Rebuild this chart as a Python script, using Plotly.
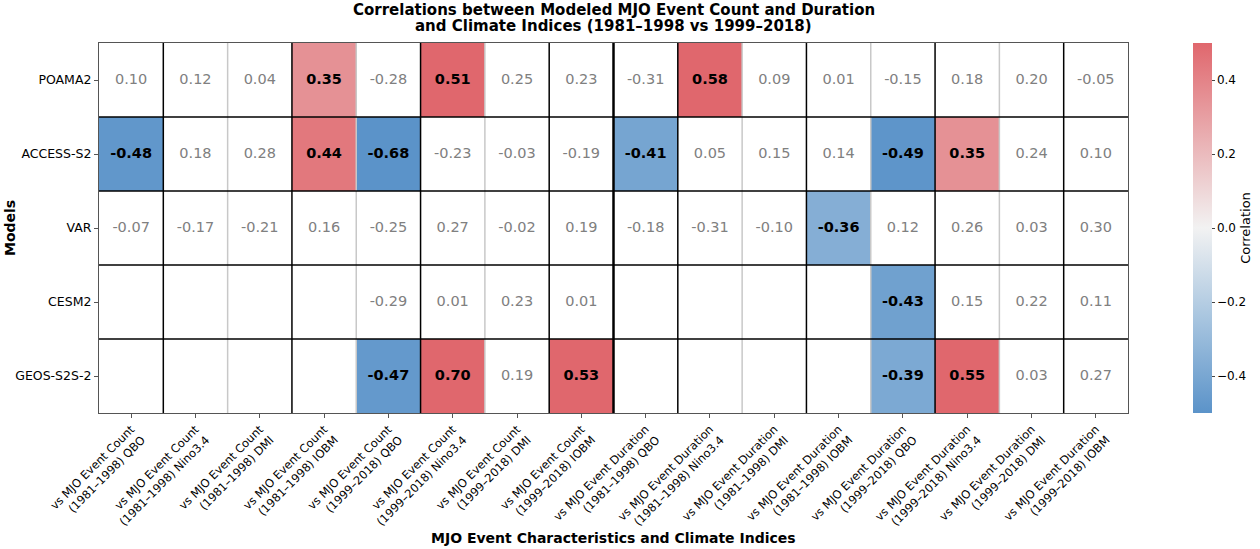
import plotly.graph_objects as go

models = ["POAMA2", "ACCESS-S2", "VAR", "CESM2", "GEOS-S2S-2"]

x_labels = [
    "vs MJO Event Count<br>(1981–1998) QBO",
    "vs MJO Event Count<br>(1981–1998) Nino3.4",
    "vs MJO Event Count<br>(1981–1998) DMI",
    "vs MJO Event Count<br>(1981–1998) IOBM",
    "vs MJO Event Count<br>(1999–2018) QBO",
    "vs MJO Event Count<br>(1999–2018) Nino3.4",
    "vs MJO Event Count<br>(1999–2018) DMI",
    "vs MJO Event Count<br>(1999–2018) IOBM",
    "vs MJO Event Duration<br>(1981–1998) QBO",
    "vs MJO Event Duration<br>(1981–1998) Nino3.4",
    "vs MJO Event Duration<br>(1981–1998) DMI",
    "vs MJO Event Duration<br>(1981–1998) IOBM",
    "vs MJO Event Duration<br>(1999–2018) QBO",
    "vs MJO Event Duration<br>(1999–2018) Nino3.4",
    "vs MJO Event Duration<br>(1999–2018) DMI",
    "vs MJO Event Duration<br>(1999–2018) IOBM",
]

poama2 = [0.10, 0.12, 0.04, 0.35, -0.28, 0.51, 0.25, 0.23, -0.31, 0.58, 0.09, 0.01, -0.15, 0.18, 0.20, -0.05]
access_s2 = [-0.48, 0.18, 0.28, 0.44, -0.68, -0.23, -0.03, -0.19, -0.41, 0.05, 0.15, 0.14, -0.49, 0.35, 0.24, 0.10]
var = [-0.07, -0.17, -0.21, 0.16, -0.25, 0.27, -0.02, 0.19, -0.18, -0.31, -0.10, -0.36, 0.12, 0.26, 0.03, 0.30]
cesm2 = [None, None, None, None, -0.29, 0.01, 0.23, 0.01, None, None, None, None, -0.43, 0.15, 0.22, 0.11]
geos_s2s_2 = [None, None, None, None, -0.47, 0.70, 0.19, 0.53, None, None, None, None, -0.39, 0.55, 0.03, 0.27]

rows = [poama2, access_s2, var, cesm2, geos_s2s_2]
sig_threshold = 0.33

cbar_ticks = [-0.4, -0.2, 0.0, 0.2, 0.4]
cbar_ticktext = ["−0.4", "−0.2", "0.0", "0.2", "0.4"]

ncol = len(x_labels)
nrow = len(models)

z = []
for r in rows:
    z.append([v if (v is not None and abs(v) >= sig_threshold) else None for v in r])

colorscale = [
    [0.0, "#5b93c9"],
    [0.25, "#a6c4df"],
    [0.5, "#f2f2f2"],
    [0.75, "#e9adb0"],
    [1.0, "#e0676d"],
]

fig = go.Figure()

fig.add_trace(go.Heatmap(
    z=z, x=list(range(ncol)), y=list(range(nrow)),
    zmin=-0.5, zmax=0.5, colorscale=colorscale,
    hoverongaps=False,
    colorbar=dict(
        x=1.0632, xanchor="left", xref="paper", xpad=0, ypad=0,
        y=0.5, yanchor="middle", len=1.0, lenmode="fraction",
        thickness=19, outlinewidth=0,
        tickvals=cbar_ticks, ticktext=cbar_ticktext,
        ticks="outside", ticklen=3, tickcolor="#444",
        tickfont=dict(size=12, color="black", family="DejaVu Sans"),
        title=dict(text="Correlation", side="right",
                   font=dict(size=13, color="black", family="DejaVu Sans")),
    ),
))

sx, sy, st = [], [], []
nx, ny, nt = [], [], []
for j, r in enumerate(rows):
    for i, v in enumerate(r):
        if v is None:
            continue
        if abs(v) >= sig_threshold:
            sx.append(i); sy.append(j); st.append(f"<b>{v:.2f}</b>")
        else:
            nx.append(i); ny.append(j); nt.append(f"{v:.2f}")

fig.add_trace(go.Scatter(x=nx, y=ny, text=nt, mode="text", showlegend=False,
                         textfont=dict(size=14.5, color="#808080", family="DejaVu Sans"),
                         hoverinfo="skip"))
fig.add_trace(go.Scatter(x=sx, y=sy, text=st, mode="text", showlegend=False,
                         textfont=dict(size=14.5, color="black", family="DejaVu Sans"),
                         hoverinfo="skip"))

shapes = []
for i in range(1, ncol):
    if i == ncol // 2:
        col, w = "black", 2.5
    elif i % 2 == 1:
        col, w = "black", 1.5
    else:
        col, w = "#c8c8c8", 1.5
    shapes.append(dict(type="line", xref="x", yref="paper", x0=i - 0.5, x1=i - 0.5,
                       y0=0, y1=1, line=dict(color=col, width=w), layer="above"))
for j in range(1, nrow):
    shapes.append(dict(type="line", xref="paper", yref="y", x0=0, x1=1,
                       y0=j - 0.5, y1=j - 0.5, line=dict(color="black", width=1.5), layer="above"))

fig.update_layout(
    width=1260, height=549,
    margin=dict(l=99, r=132, t=43, b=136, autoexpand=False),
    paper_bgcolor="white", plot_bgcolor="white",
    font=dict(family="DejaVu Sans", color="black"),
    shapes=shapes,
    xaxis=dict(
        range=[-0.5, ncol - 0.5], tickmode="array", tickvals=list(range(ncol)), ticktext=x_labels,
        tickangle=-45, tickfont=dict(size=11.5, color="black"), automargin=False,
        ticks="outside", ticklen=4, tickcolor="#555",
        showgrid=False, zeroline=False, showline=True, linecolor="#555", linewidth=1.2, mirror=True,
    ),
    yaxis=dict(
        range=[nrow - 0.5, -0.5], tickmode="array", tickvals=list(range(nrow)), ticktext=models,
        tickfont=dict(size=12.5, color="black"), automargin=False,
        ticks="outside", ticklen=4, tickcolor="#555",
        showgrid=False, zeroline=False, showline=True, linecolor="#555", linewidth=1.2, mirror=True,
    ),
    annotations=[
        dict(text="<b>Correlations between Modeled MJO Event Count and Duration</b>",
             xref="paper", yref="paper", x=0.5, y=1.0 + 33 / 370, xanchor="center", yanchor="middle",
             showarrow=False, font=dict(size=15, color="black")),
        dict(text="<b>and Climate Indices (1981–1998 vs 1999–2018)</b>",
             xref="paper", yref="paper", x=0.5, y=1.0 + 17 / 370, xanchor="center", yanchor="middle",
             showarrow=False, font=dict(size=15, color="black")),
        dict(text="<b>Models</b>", xref="paper", yref="paper", x=-0.0865, y=0.5,
             xanchor="center", yanchor="middle",
             textangle=-90, showarrow=False, font=dict(size=14, color="black")),
        dict(text="<b>MJO Event Characteristics and Climate Indices</b>", xref="paper", yref="paper",
             x=0.5, y=-0.338, xanchor="center", yanchor="middle", showarrow=False,
             font=dict(size=14, color="black")),
    ],
)

fig.write_html("out.html", config={"displayModeBar": False},
               post_script="document.body.style.margin='0';document.body.style.overflow='hidden';")
